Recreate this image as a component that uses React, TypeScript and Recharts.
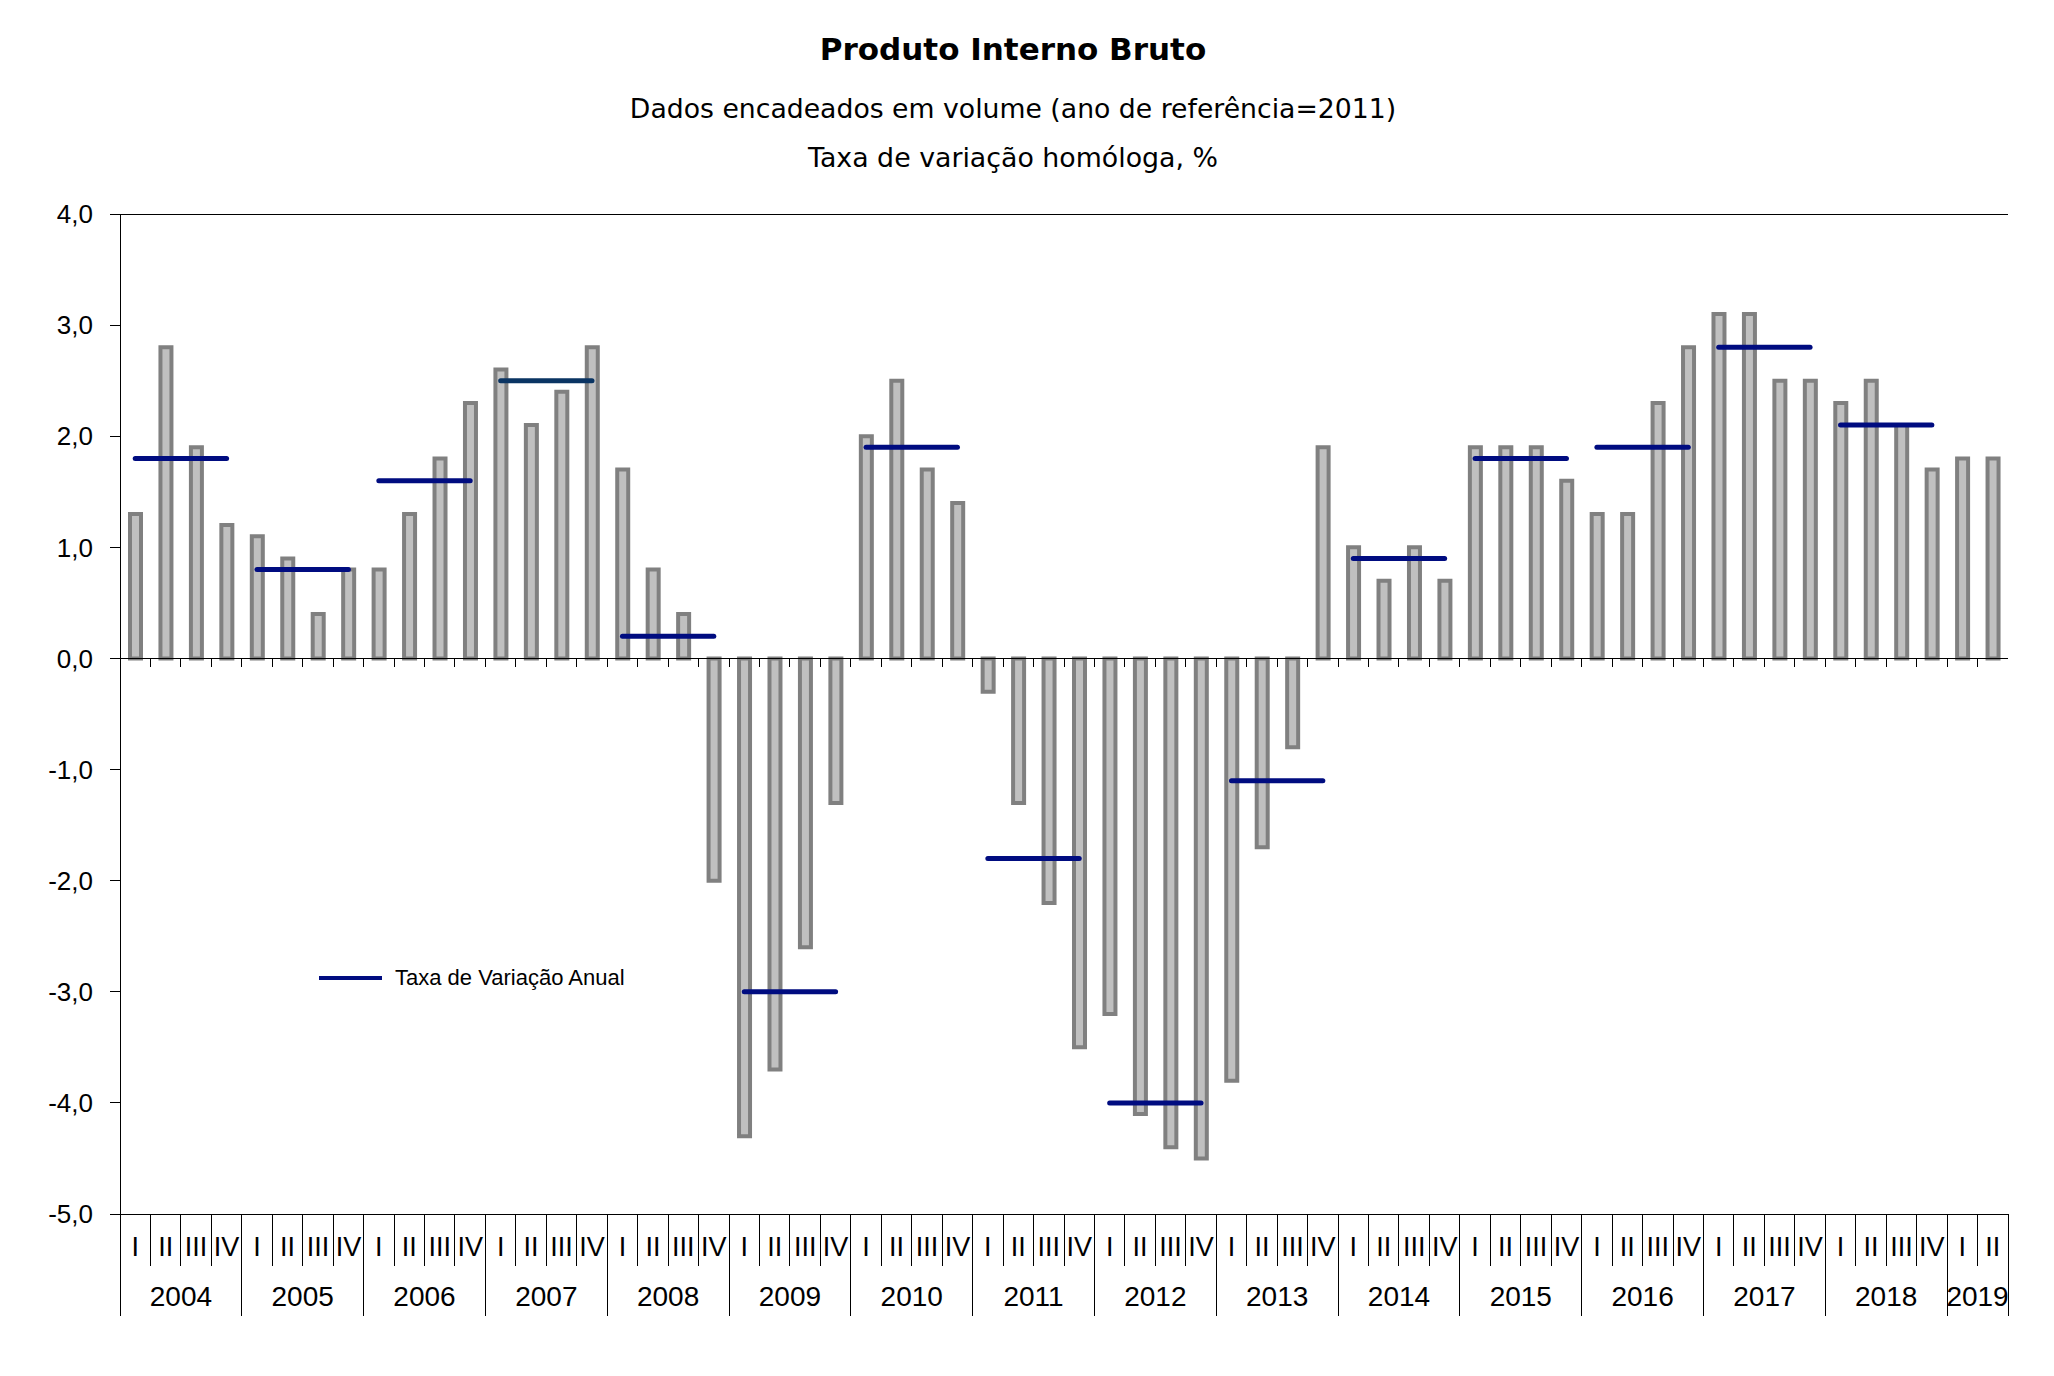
import React from 'react';
import { ComposedChart, Bar, Line, XAxis, YAxis, ReferenceLine, Legend } from 'recharts';

// anos e trimestres (2004-I a 2019-II)
const years = [2004, 2005, 2006, 2007, 2008, 2009, 2010, 2011, 2012, 2013, 2014, 2015, 2016, 2017, 2018, 2019];
const quarterNames = ['I', 'II', 'III', 'IV'];

// taxa de variação homóloga trimestral, %
const quarterlyRates = [
  1.3, 2.8, 1.9, 1.2,
  1.1, 0.9, 0.4, 0.8,
  0.8, 1.3, 1.8, 2.3,
  2.6, 2.1, 2.4, 2.8,
  1.7, 0.8, 0.4, -2.0,
  -4.3, -3.7, -2.6, -1.3,
  2.0, 2.5, 1.7, 1.4,
  -0.3, -1.3, -2.2, -3.5,
  -3.2, -4.1, -4.4, -4.5,
  -3.8, -1.7, -0.8, 1.9,
  1.0, 0.7, 1.0, 0.7,
  1.9, 1.9, 1.9, 1.6,
  1.3, 1.3, 2.3, 2.8,
  3.1, 3.1, 2.5, 2.5,
  2.3, 2.5, 2.1, 1.7,
  1.8, 1.8,
];

// taxa de variação anual (2004 a 2018)
const annualRates = [1.8, 0.8, 1.6, 2.5, 0.2, -3.0, 1.9, -1.8, -4.0, -1.1, 0.9, 1.8, 1.9, 2.8, 2.1];

const yTicks = [-5, -4, -3, -2, -1, 0, 1, 2, 3, 4];

const title = 'Produto Interno Bruto';
const subtitle = 'Dados encadeados em volume (ano de referência=2011)';
const subtitle2 = 'Taxa de variação homóloga, %';
const annualLabel = 'Taxa de Variação Anual';

const AXIS_FONT = '"Liberation Sans", Arial, sans-serif';
const TITLE_FONT = '"DejaVu Sans", Verdana, sans-serif';

const data = quarterlyRates.map((rate, i) => {
  const year = years[Math.floor(i / 4)];
  const q = quarterNames[i % 4];
  const row: any = { key: `${year}-${q}`, year, q, rate };
  const annual = annualRates[Math.floor(i / 4)];
  if (annual !== undefined) row[`a${year}`] = annual;
  return row;
});

const quartersInYear = (year: number) => data.filter((d) => d.year === year).length;

const lineColor = (year: number) => (year === 2007 ? '#0a3463' : '#000c80');

const fmt = (v: number) => v.toFixed(1).replace('.', ',');

// rótulos do eixo X: trimestre + ano, com separadores
const QuarterTick = (props: any) => {
  const { x, y, payload, index } = props;
  const row = data[index];
  if (!row) return null;
  const off = payload.offset ?? 15.2;
  const isFirst = row.q === 'I';
  const isLast = index === data.length - 1;
  const n = quartersInYear(row.year);
  return (
    <g shapeRendering="crispEdges">
      <line x1={x - off} x2={x - off} y1={y} y2={y + (isFirst ? 102 : 52)} stroke="#000" strokeWidth={1} />
      {isLast && <line x1={x + off} x2={x + off} y1={y} y2={y + 102} stroke="#000" strokeWidth={1} />}
      <text x={x} y={y + 42} textAnchor="middle" fontSize={27} fontFamily={AXIS_FONT} fill="#000">
        {row.q}
      </text>
      {isFirst && (
        <text x={x - off + n * off} y={y + 92} textAnchor="middle" fontSize={28} fontFamily={AXIS_FONT} fill="#000">
          {row.year}
        </text>
      )}
    </g>
  );
};

// linha do zero com marcas entre categorias
const ZeroLine = (props: any) => {
  const { x1, x2, y1 } = props;
  const n = data.length;
  const step = (x2 - x1) / n;
  return (
    <g shapeRendering="crispEdges">
      <line x1={x1} x2={x2} y1={y1} y2={y1} stroke="#000" strokeWidth={1} />
      {data.slice(1).map((_, i) => (
        <line key={i} x1={x1 + (i + 1) * step} x2={x1 + (i + 1) * step} y1={y1} y2={y1 + 9} stroke="#000" strokeWidth={1} />
      ))}
    </g>
  );
};

const renderLegend = () => (
  <svg width={400} height={40}>
    <line x1={0} x2={63} y1={20} y2={20} stroke="#000c80" strokeWidth={4} />
    <text x={76} y={27} fontSize={22} fontFamily={AXIS_FONT} fill="#000">
      {annualLabel}
    </text>
  </svg>
);

export default function App() {
  return (
    <div style={{ position: 'absolute', left: 0, top: 0, width: 2054, height: 1376, background: '#fff' }}>
      <ComposedChart width={2054} height={1376} data={data} margin={{ top: 214, right: 46, bottom: 52, left: 20 }} barCategoryGap={0}>
        <XAxis
          dataKey="key"
          interval={0}
          height={110}
          tickSize={0}
          tickMargin={0}
          tickLine={false}
          axisLine={{ stroke: '#000', strokeWidth: 1, shapeRendering: 'crispEdges' }}
          tick={<QuarterTick />}
        />
        <YAxis
          domain={[-5, 4]}
          ticks={yTicks}
          interval={0}
          width={100}
          tickSize={10}
          tickMargin={17}
          tickFormatter={fmt}
          tickLine={{ stroke: '#000', shapeRendering: 'crispEdges' }}
          axisLine={{ stroke: '#000', shapeRendering: 'crispEdges' }}
          tick={{ fill: '#000', fontSize: 26, fontFamily: AXIS_FONT }}
        />
        <YAxis
          yAxisId="right"
          orientation="right"
          domain={[-5, 4]}
          width={0}
          tick={false}
          tickLine={false}
          axisLine={{ stroke: '#000', shapeRendering: 'crispEdges' }}
        />
        <ReferenceLine y={4} stroke="#000" strokeWidth={1} shapeRendering="crispEdges" />
        <ReferenceLine y={0} shape={<ZeroLine />} />
        <Bar dataKey="rate" fill="#c0c0c0" stroke="#808080" strokeWidth={4} barSize={11} isAnimationActive={false} />
        {years
          .filter((_, i) => annualRates[i] !== undefined)
          .map((year) => (
            <Line
              key={year}
              dataKey={`a${year}`}
              name={annualLabel}
              stroke={lineColor(year)}
              strokeWidth={5}
              strokeLinecap="round"
              dot={false}
              activeDot={false}
              isAnimationActive={false}
            />
          ))}
        <Legend
          layout="horizontal"
          verticalAlign="middle"
          align="center"
          content={renderLegend}
          wrapperStyle={{ left: 319, top: 958, width: 400, height: 40 }}
        />
      </ComposedChart>
      <svg width={2054} height={200} style={{ position: 'absolute', left: 0, top: 0, pointerEvents: 'none' }}>
        <text x={1013} y={60} textAnchor="middle" fontSize={31} fontWeight="bold" fontFamily={TITLE_FONT} fill="#000">
          {title}
        </text>
        <text x={1013} y={118} textAnchor="middle" fontSize={26.7} fontFamily={TITLE_FONT} fill="#000">
          {subtitle}
        </text>
        <text x={1013} y={167} textAnchor="middle" fontSize={26.8} fontFamily={TITLE_FONT} fill="#000">
          {subtitle2}
        </text>
      </svg>
    </div>
  );
}
